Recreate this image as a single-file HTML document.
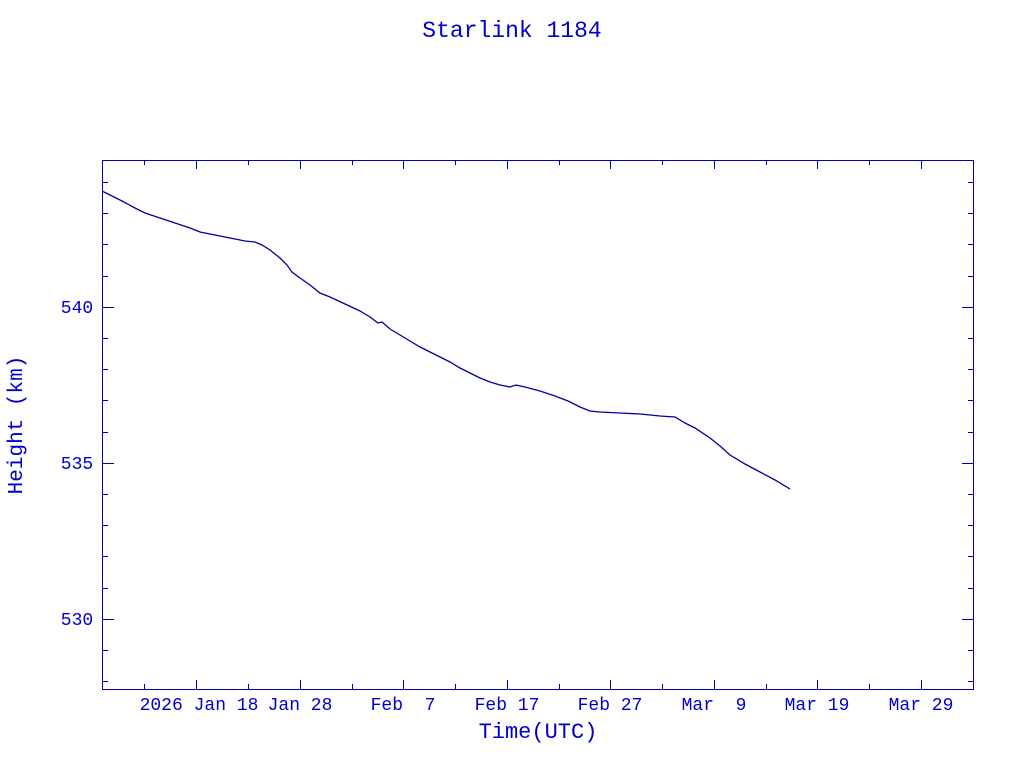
<!DOCTYPE html>
<html><head><style>
html,body{margin:0;padding:0;background:#fff;}
svg{display:block;}
text{font-family:"Liberation Mono","DejaVu Sans Mono",monospace;fill:#0000c8;white-space:pre;}
</style></head><body>
<svg width="1024" height="768" xmlns="http://www.w3.org/2000/svg" xml:space="preserve">
<text x="512" y="37" font-size="23" text-anchor="middle">Starlink 1184</text>
<rect x="102.5" y="160.5" width="871" height="529" fill="none" stroke="#0000b0" stroke-width="1"/>
<g stroke="#0000b0" stroke-width="1">
<path d="M196.5 689v-9M300.5 689v-9M403.5 689v-9M507.5 689v-9M610.5 689v-9M714.5 689v-9M817.5 689v-9M921.5 689v-9
M196.5 160v9M300.5 160v9M403.5 160v9M507.5 160v9M610.5 160v9M714.5 160v9M817.5 160v9M921.5 160v9
M144.5 689v-5M248.5 689v-5M352.5 689v-5M455.5 689v-5M559.5 689v-5M662.5 689v-5M766.5 689v-5M869.5 689v-5
M144.5 160v5M248.5 160v5M352.5 160v5M455.5 160v5M559.5 160v5M662.5 160v5M766.5 160v5M869.5 160v5"/>
<path d="M102 307.5h12M102 463.5h12M102 619.5h12M974 307.5h-12M974 463.5h-12M974 619.5h-12
M102 182.5h6M102 213.5h6M102 244.5h6M102 276.5h6M102 338.5h6M102 369.5h6M102 400.5h6M102 432.5h6M102 494.5h6M102 525.5h6M102 556.5h6M102 588.5h6M102 650.5h6M102 681.5h6
M974 182.5h-6M974 213.5h-6M974 244.5h-6M974 276.5h-6M974 338.5h-6M974 369.5h-6M974 400.5h-6M974 432.5h-6M974 494.5h-6M974 525.5h-6M974 556.5h-6M974 588.5h-6M974 650.5h-6M974 681.5h-6"/>
</g>
<polyline fill="none" stroke="#0000a0" stroke-width="1.3" points="102,191 110,195 122,201 135,208 145,213 160,218 175,223 190,228 200,232 215,235 230,238 245,241 255,242 262,245 270,250 280,258 287,265 292,272 300,278 310,285 320,293 330,297 345,304 360,311 370,317 378,323 382,322 390,329 400,335 410,341 420,347 430,352 440,357 450,362 460,368 470,373 480,378 490,382 500,385 510,387 516,385 525,387 540,391 555,396 568,401 580,407 590,411 600,412 620,413 640,414 660,416 675,417 685,423 695,428 710,438 720,446 730,455 745,464 760,472 775,480 790,489"/>
<g font-size="18" text-anchor="middle">
<text x="77" y="313">540</text>
<text x="77" y="469">535</text>
<text x="77" y="625">530</text>
<text x="199" y="710">2026 Jan 18</text>
<text x="300" y="710">Jan 28</text>
<text x="403" y="710">Feb  7</text>
<text x="507" y="710">Feb 17</text>
<text x="610" y="710">Feb 27</text>
<text x="714" y="710">Mar  9</text>
<text x="817" y="710">Mar 19</text>
<text x="921" y="710">Mar 29</text>
</g>
<text x="538" y="738" font-size="22" text-anchor="middle">Time(UTC)</text>
<text transform="translate(22,425) rotate(-90)" font-size="21" text-anchor="middle">Height (km)</text>
</svg>
</body></html>
